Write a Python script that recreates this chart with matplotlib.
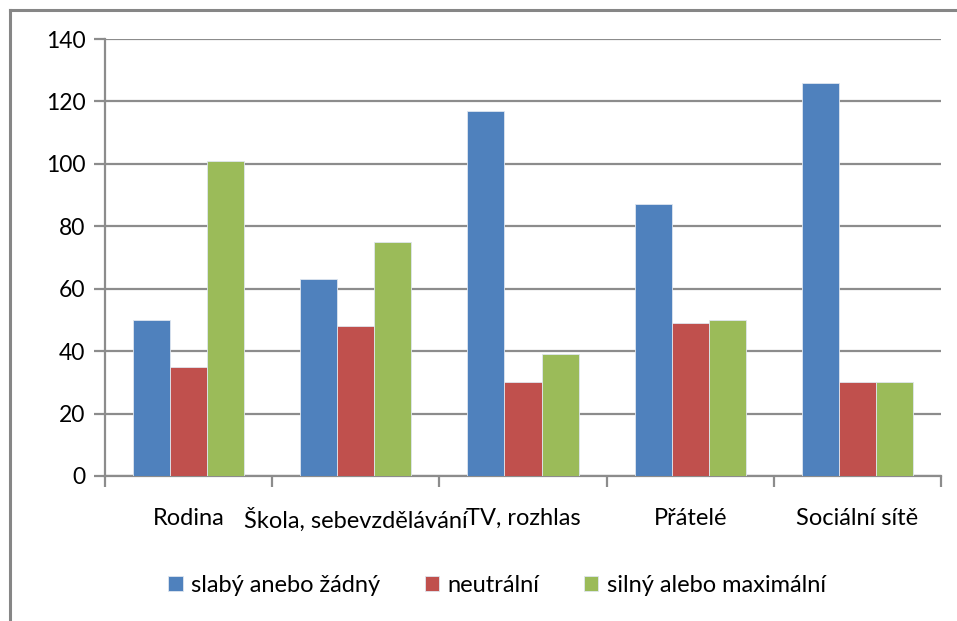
import matplotlib.pyplot as plt
import numpy as np
from matplotlib.lines import Line2D

plt.rcParams['font.family'] = ['Lato', 'DejaVu Sans']

categories = ['Rodina', 'Škola, sebevzdělávání', 'TV, rozhlas', 'Přátelé', 'Sociální sítě']
series_names = ['slabý anebo žádný', 'neutrální', 'silný alebo maximální']
weak = [50, 63, 117, 87, 126]
neutral = [35, 48, 30, 49, 30]
strong = [101, 75, 39, 50, 30]
colors = ['#4F81BD', '#C0504D', '#9BBB59']

W, H = 957, 621
fig = plt.figure(figsize=(W / 100, H / 100), dpi=100)
ax = fig.add_axes([105 / W, 1 - 476 / H, 836 / W, 437 / H])

x = np.arange(len(categories))
bw = 0.222
for i, (vals, name) in enumerate(zip([weak, neutral, strong], series_names)):
    ax.bar(x + (i - 1) * bw, vals, width=bw, color=colors[i], label=name,
           edgecolor='#dfe6ef', linewidth=0.6, zorder=3)

grid_c = '#8c8c8c'
ax.set_xlim(-0.5, len(categories) - 0.5)
ax.set_ylim(0, 140)
ax.set_yticks(range(0, 141, 20))
ax.yaxis.grid(True, color=grid_c, linewidth=1.6, zorder=0)
ax.set_axisbelow(True)

# category boundaries ticks
ax.set_xticks(np.arange(-0.5, len(categories)), minor=False)
ax.set_xticklabels([])
ax.set_xticks(x, minor=True)
ax.set_xticklabels(categories, minor=True, fontsize=17)
ax.tick_params(axis='x', which='minor', length=0, pad=23)
ax.tick_params(axis='x', which='major', length=8, width=1.6, color=grid_c, direction='out')
ax.tick_params(axis='y', length=8, width=1.6, color=grid_c, labelsize=16.5, pad=6)

for s in ['top', 'right']:
    ax.spines[s].set_visible(False)
for s in ['left', 'bottom']:
    ax.spines[s].set_color(grid_c)
    ax.spines[s].set_linewidth(1.6)

ax.legend(loc='center', bbox_to_anchor=(0.5 - 26 / 836, (476 - 585) / 437),
          ncol=3, frameon=False, fontsize=17, handlelength=0.6, handleheight=0.6,
          handletextpad=0.35, columnspacing=1.9)

# outer chart border (only top and left visible)
fig.add_artist(Line2D([10 / W, 1], [1 - 10 / H, 1 - 10 / H], color='#868686', linewidth=2.2,
                      transform=fig.transFigure))
fig.add_artist(Line2D([10 / W, 10 / W], [1 - 10 / H, 0], color='#868686', linewidth=2.2,
                      transform=fig.transFigure))

fig.savefig('out.png', dpi=100)
